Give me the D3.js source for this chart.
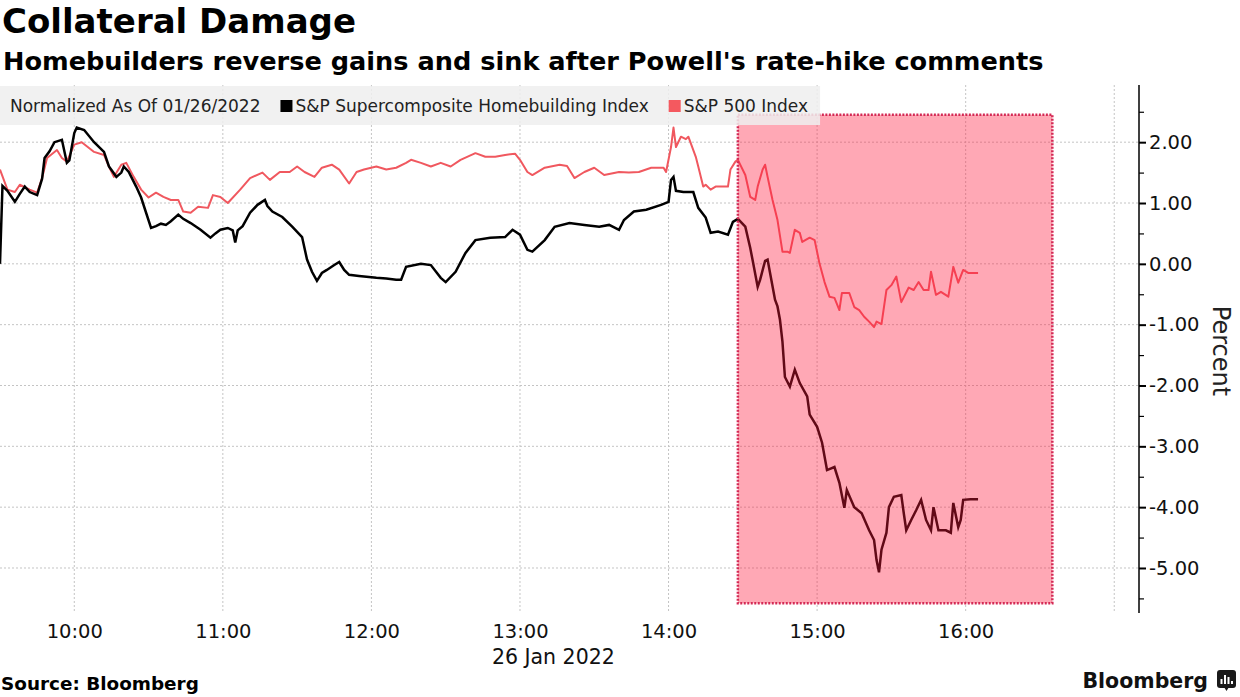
<!DOCTYPE html>
<html>
<head>
<meta charset="utf-8">
<script src="https://cdn.jsdelivr.net/npm/d3@7"></script>
<style>
  body { margin: 0; background: #fff; }
  svg { display: block; font-family: 'DejaVu Sans', sans-serif; }
</style>
</head>
<body>
<svg id="chart"></svg>
<script>
// ---- data ------------------------------------------------------------
const hbTimes = ['09:30','09:31','09:33','09:36','09:38','09:40','09:42','09:45','09:47','09:48','09:50','09:52','09:55','09:57','09:58','10:00','10:01','10:04','10:08','10:12','10:14','10:17','10:19','10:20','10:22','10:25','10:27','10:29','10:31','10:33','10:35','10:37','10:39','10:42','10:44','10:47','10:51','10:55','10:57','10:59','11:02','11:04','11:05','11:06','11:08','11:11','11:14','11:17','11:18','11:20','11:24','11:28','11:32','11:34','11:36','11:38','11:40','11:42','11:45','11:47','11:49','11:51','11:55','12:02','12:06','12:10','12:12','12:14','12:20','12:24','12:28','12:30','12:34','12:38','12:42','12:48','12:54','12:57','13:00','13:03','13:05','13:10','13:14','13:20','13:26','13:32','13:36','13:40','13:42','13:46','13:51','13:57','14:00','14:01','14:02','14:03','14:06','14:10','14:12','14:15','14:17','14:20','14:24','14:26','14:28','14:31','14:33','14:34','14:36','14:37','14:39','14:40','14:41','14:43','14:44','14:45','14:46','14:47','14:49','14:51','14:53','14:56','14:57','15:00','15:02','15:04','15:07','15:09','15:11','15:12','15:15','15:18','15:21','15:23','15:24','15:25','15:26','15:28','15:29','15:31','15:34','15:35','15:36','15:38','15:40','15:42','15:44','15:46','15:47','15:49','15:52','15:54','15:55','15:57','15:58','15:59','16:02','16:05']
const hbValues = [0.00,1.28,1.20,1.02,1.15,1.27,1.18,1.13,1.40,1.74,1.85,2.00,2.04,1.66,1.70,2.15,2.24,2.20,2.00,1.84,1.60,1.43,1.50,1.60,1.51,1.27,1.09,0.84,0.59,0.62,0.66,0.64,0.70,0.81,0.74,0.67,0.56,0.43,0.50,0.56,0.59,0.55,0.35,0.55,0.62,0.84,0.97,1.05,0.95,0.86,0.77,0.61,0.44,0.07,-0.13,-0.28,-0.15,-0.10,-0.02,0.03,-0.10,-0.18,-0.20,-0.23,-0.24,-0.26,-0.26,-0.05,0.00,-0.02,-0.23,-0.30,-0.13,0.18,0.39,0.43,0.44,0.56,0.48,0.23,0.20,0.39,0.61,0.67,0.64,0.61,0.64,0.56,0.72,0.86,0.89,0.97,1.02,1.38,1.43,1.20,1.18,1.18,0.92,0.76,0.51,0.53,0.48,0.69,0.74,0.61,0.26,0.05,-0.38,-0.26,0.05,0.07,-0.15,-0.59,-0.70,-0.92,-1.28,-1.86,-2.02,-1.74,-1.96,-2.18,-2.48,-2.68,-2.94,-3.39,-3.34,-3.60,-4.01,-3.72,-4.00,-4.10,-4.38,-4.54,-4.87,-5.07,-4.70,-4.42,-4.00,-3.83,-3.80,-4.10,-4.38,-4.21,-4.05,-3.88,-4.21,-4.38,-4.00,-4.38,-4.38,-4.42,-3.93,-4.33,-4.21,-3.88,-3.87,-3.87]

const spTimes = ['09:30','09:33','09:36','09:38','09:42','09:45','09:47','09:49','09:53','09:55','09:57','10:00','10:03','10:08','10:12','10:14','10:16','10:19','10:21','10:24','10:27','10:30','10:33','10:36','10:39','10:42','10:44','10:47','10:50','10:54','10:56','10:59','11:02','11:07','11:11','11:16','11:19','11:23','11:27','11:30','11:33','11:37','11:40','11:44','11:47','11:51','11:54','11:57','12:02','12:06','12:10','12:14','12:16','12:20','12:24','12:28','12:32','12:36','12:42','12:46','12:50','12:54','12:58','13:00','13:03','13:05','13:10','13:16','13:19','13:22','13:26','13:30','13:34','13:40','13:44','13:48','13:53','13:58','13:59','14:01','14:02','14:03','14:05','14:07','14:08','14:11','14:12','14:14','14:15','14:17','14:19','14:22','14:24','14:25','14:27','14:28','14:31','14:33','14:35','14:36','14:38','14:39','14:40','14:42','14:44','14:46','14:48','14:49','14:51','14:53','14:54','14:57','14:59','15:01','15:03','15:05','15:07','15:09','15:10','15:13','15:15','15:17','15:19','15:21','15:23','15:24','15:26','15:28','15:30','15:32','15:34','15:37','15:39','15:41','15:43','15:45','15:46','15:48','15:50','15:53','15:55','15:57','15:59','16:01','16:05']
const spValues = [1.55,1.22,1.18,1.30,1.22,1.17,1.41,1.74,1.87,1.74,1.68,1.96,2.00,1.84,1.79,1.60,1.43,1.63,1.66,1.43,1.22,1.09,1.17,1.10,1.05,1.05,0.86,0.84,0.94,0.92,1.13,1.10,1.00,1.22,1.41,1.50,1.38,1.51,1.51,1.60,1.51,1.43,1.58,1.63,1.55,1.32,1.51,1.55,1.60,1.55,1.58,1.66,1.71,1.66,1.60,1.66,1.60,1.71,1.82,1.76,1.76,1.79,1.81,1.71,1.51,1.46,1.58,1.63,1.61,1.41,1.51,1.58,1.46,1.51,1.50,1.51,1.58,1.58,1.51,1.92,2.24,1.92,2.09,2.05,2.09,1.76,1.60,1.27,1.30,1.22,1.27,1.27,1.27,1.55,1.68,1.71,1.46,1.10,1.05,1.27,1.55,1.63,1.43,1.05,0.72,0.20,0.20,0.18,0.56,0.51,0.36,0.43,0.39,0.00,-0.30,-0.54,-0.56,-0.76,-0.48,-0.48,-0.71,-0.76,-0.87,-0.95,-1.04,-0.95,-0.99,-0.43,-0.35,-0.21,-0.63,-0.39,-0.43,-0.30,-0.43,-0.43,-0.13,-0.51,-0.46,-0.54,-0.05,-0.31,-0.10,-0.15,-0.15]

const yTicks = [2, 1, 0, -1, -2, -3, -4, -5]
const yMinorTicks = [2.5, 1.5, 0.5, -0.5, -1.5, -2.5, -3.5, -4.5, -5.5]
const xTickLabels = ['10:00', '11:00', '12:00', '13:00', '14:00', '15:00', '16:00']
const xGridTimes = ['10:00', '11:00', '12:00', '13:00', '14:00', '15:00', '16:00', '17:00']
const timeDomain = ['09:30', '17:10']
const valueDomain = [-5.74, 2.94]
// highlighted window after Powell's comments
const shadeTimes = ['14:28', '16:35']
const shadeValues = [2.45, -5.58]

const legendItems = [
  { label: 'S&P Supercomposite Homebuilding Index', color: '#000000' },
  { label: 'S&P 500 Index', color: '#f4595f' }
]

// ---- setup -----------------------------------------------------------
const W = 1240
const H = 697
const plot = { left: 0, right: 1139, top: 85, bottom: 613 }

const parseTime = d3.timeParse('%H:%M')
const fmtTime = d3.timeFormat('%H:%M')

const svg = d3.select('#chart').attr('width', W).attr('height', H)

const x = d3.scaleTime()
  .domain(timeDomain.map(parseTime))
  .range([plot.left, plot.right])
const y = d3.scaleLinear()
  .domain(valueDomain)
  .range([plot.bottom, plot.top])

const hbData = hbTimes.map((t, i) => ({ time: parseTime(t), value: hbValues[i] }))
const spData = spTimes.map((t, i) => ({ time: parseTime(t), value: spValues[i] }))

// ---- grid ------------------------------------------------------------
const grid = svg.append('g').attr('class', 'grid')
grid.selectAll('.hgrid')
  .data(yTicks)
  .join('line')
  .attr('class', 'hgrid')
  .attr('x1', plot.left)
  .attr('x2', plot.right)
  .attr('y1', d => y(d))
  .attr('y2', d => y(d))
grid.selectAll('.vgrid')
  .data(xGridTimes.map(parseTime))
  .join('line')
  .attr('class', 'vgrid')
  .attr('x1', d => x(d))
  .attr('x2', d => x(d))
  .attr('y1', plot.top)
  .attr('y2', plot.bottom)
grid.selectAll('line')
  .attr('stroke', '#c4c4c4')
  .attr('stroke-width', 1)
  .attr('stroke-dasharray', '2,2')

// ---- lines -----------------------------------------------------------
const line = d3.line()
  .x(d => x(d.time))
  .y(d => y(d.value))

svg.append('path')
  .datum(spData)
  .attr('class', 'sp500')
  .attr('fill', 'none')
  .attr('stroke', '#f0585f')
  .attr('stroke-width', 2)
  .attr('stroke-linejoin', 'round')
  .attr('d', line)

svg.append('path')
  .datum(hbData)
  .attr('class', 'homebuilders')
  .attr('fill', 'none')
  .attr('stroke', '#000')
  .attr('stroke-width', 2.5)
  .attr('stroke-linejoin', 'miter')
  .attr('d', line)

// ---- shaded window ---------------------------------------------------
const sx0 = x(parseTime(shadeTimes[0]))
const sx1 = x(parseTime(shadeTimes[1]))
const sy0 = y(shadeValues[0])
const sy1 = y(shadeValues[1])
svg.append('rect')
  .attr('class', 'shade')
  .attr('x', sx0)
  .attr('y', sy0)
  .attr('width', sx1 - sx0)
  .attr('height', sy1 - sy0)
  .attr('fill', '#ff1a3c')
  .attr('fill-opacity', 0.38)
  .attr('stroke', '#d42a55')
  .attr('stroke-width', 2.5)
  .attr('stroke-dasharray', '2,1.5')

// ---- legend ----------------------------------------------------------
const legend = svg.append('g').attr('class', 'legend')
const legendBg = legend.append('rect')
  .attr('x', 0)
  .attr('y', 86)
  .attr('height', 39)
  .attr('fill', '#efefef')
  .attr('fill-opacity', 0.85)

const legendTitle = legend.append('text')
  .text('Normalized As Of 01/26/2022')
  .attr('x', 10)
  .attr('y', 112)
  .attr('font-size', 17)
  .attr('fill', '#222')

let lx = 10 + legendTitle.node().getComputedTextLength() + 20
legendItems.forEach(item => {
  legend.append('rect')
    .attr('x', lx)
    .attr('y', 100)
    .attr('width', 12)
    .attr('height', 12)
    .attr('fill', item.color)
  const t = legend.append('text')
    .text(item.label)
    .attr('x', lx + 15)
    .attr('y', 112)
    .attr('font-size', 17)
    .attr('fill', '#222')
  lx = lx + 15 + t.node().getComputedTextLength() + 20
})
legendBg.attr('width', lx - 8)

// ---- axes ------------------------------------------------------------
const yAxis = svg.append('g')
  .attr('class', 'axis y-axis')
  .attr('transform', 'translate(' + plot.right + ',0)')
  .call(
    d3.axisRight(y)
      .tickValues(yTicks)
      .tickSize(7)
      .tickPadding(3)
      .tickFormat(d => d.toFixed(2))
  )
yAxis.select('.domain').remove()
yAxis.selectAll('.tick line').attr('stroke', '#000').attr('stroke-width', 2)
yAxis.selectAll('.tick text')
  .attr('font-size', 19.5)
  .attr('font-family', 'DejaVu Sans')
  .attr('fill', '#111')

const yMinor = svg.append('g')
  .attr('transform', 'translate(' + plot.right + ',0)')
  .call(d3.axisRight(y).tickValues(yMinorTicks).tickSize(5).tickFormat(''))
yMinor.select('.domain').remove()
yMinor.selectAll('.tick line').attr('stroke', '#000').attr('stroke-width', 1.2)

svg.append('line')
  .attr('x1', plot.right)
  .attr('x2', plot.right)
  .attr('y1', plot.top)
  .attr('y2', plot.bottom)
  .attr('stroke', '#000')
  .attr('stroke-width', 1.5)

const xAxis = svg.append('g')
  .attr('class', 'axis x-axis')
  .attr('transform', 'translate(0,' + plot.bottom + ')')
  .call(
    d3.axisBottom(x)
      .tickValues(xTickLabels.map(parseTime))
      .tickSize(0)
      .tickPadding(11)
      .tickFormat(fmtTime)
  )
xAxis.select('.domain').remove()
xAxis.selectAll('.tick text')
  .attr('font-size', 19.5)
  .attr('font-family', 'DejaVu Sans')
  .attr('fill', '#111')

// date label, left aligned under the 13:00 label
const t13 = xAxis.selectAll('.tick text').filter(d => fmtTime(d) === '13:00').node()
const b13 = t13.getBBox()
svg.append('text')
  .text('26 Jan 2022')
  .attr('x', x(parseTime('13:00')) + b13.x)
  .attr('y', 664)
  .attr('font-size', 20.5)
  .attr('fill', '#111')

svg.append('text')
  .text('Percent')
  .attr('transform', 'translate(1213,351) rotate(90)')
  .attr('text-anchor', 'middle')
  .attr('font-size', 24)
  .attr('fill', '#222')

// ---- titles ----------------------------------------------------------
svg.append('text')
  .text('Collateral Damage')
  .attr('x', 2)
  .attr('y', 33)
  .attr('font-size', 34)
  .attr('font-weight', 'bold')
  .attr('fill', '#000')

svg.append('text')
  .text("Homebuilders reverse gains and sink after Powell's rate-hike comments")
  .attr('x', 3)
  .attr('y', 70)
  .attr('font-size', 25.6)
  .attr('font-weight', 'bold')
  .attr('fill', '#000')

svg.append('text')
  .text('Source: Bloomberg')
  .attr('x', 1)
  .attr('y', 690)
  .attr('font-size', 18.4)
  .attr('font-weight', 'bold')
  .attr('fill', '#000')

// ---- Bloomberg mark --------------------------------------------------
svg.append('text')
  .text('Bloomberg')
  .attr('x', 1208)
  .attr('y', 688)
  .attr('text-anchor', 'end')
  .attr('font-size', 20.5)
  .attr('font-weight', 'bold')
  .attr('fill', '#111')

const logo = svg.append('g').attr('transform', 'translate(1217,670)')
logo.append('rect')
  .attr('width', 19)
  .attr('height', 18)
  .attr('rx', 3)
  .attr('fill', '#1a1a1a')
logo.append('path')
  .attr('d', 'M7,17 L9.5,21 L12,17 Z')
  .attr('fill', '#1a1a1a')
;[[4.5, 9, 5], [8, 5, 9], [11.5, 7, 7], [15, 11, 3]].forEach(b => {
  logo.append('rect')
    .attr('x', b[0] - 1)
    .attr('y', b[1])
    .attr('width', 2)
    .attr('height', b[2])
    .attr('fill', '#fff')
})
</script>
</body>
</html>
